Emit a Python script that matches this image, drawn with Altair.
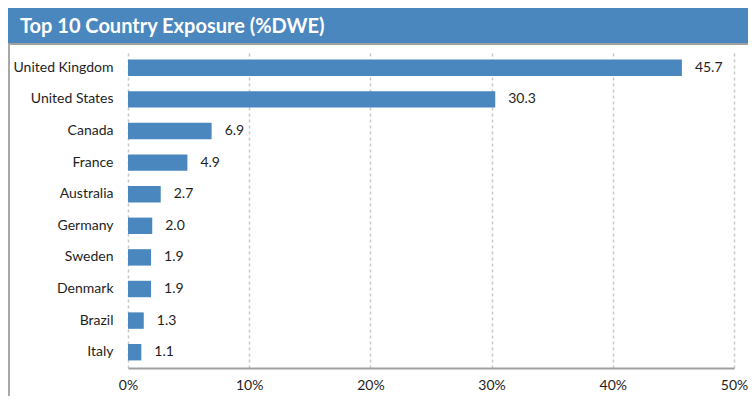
import altair as alt
import pandas as pd

# ---- data ----
countries = ["United Kingdom", "United States", "Canada", "France", "Australia",
             "Germany", "Sweden", "Denmark", "Brazil", "Italy"]
values = [45.7, 30.3, 6.9, 4.9, 2.7, 2.0, 1.9, 1.9, 1.3, 1.1]
x_ticks = [0, 10, 20, 30, 40, 50]
title_text = ["Top 10 Country Exposure (%DWE)"]

df = pd.DataFrame({"country": countries, "value": values})

FONT = "Lato"
BLUE = "#4a87be"
TXT = "#1e1e1e"

W, H = 606, 316
PAD_L, PAD_T, PAD_R, PAD_B = 120, 44, 14, 28

x_enc = alt.X(
    "value:Q",
    scale=alt.Scale(domain=[0, 50], nice=False, zero=True),
    axis=alt.Axis(
        values=x_ticks, labelExpr="datum.value + '%'", title=None,
        grid=True, gridDash=[3, 3], gridColor="#c8c8c8", gridWidth=1.5,
        domainColor="#a0a0a0", domainWidth=2, ticks=False,
        labelFlush=False,
        labelPadding=10, labelFontSize=14, labelColor=TXT, labelFont=FONT,
    ),
)
y_enc = alt.Y(
    "country:N", sort=countries,
    scale=alt.Scale(paddingInner=0.48, paddingOuter=0.24),
    axis=alt.Axis(
        title=None, ticks=False, domain=False, grid=False,
        labelPadding=15, labelFontSize=14, labelColor=TXT, labelFont=FONT,
    ),
)

bars = alt.Chart(df).mark_bar(color=BLUE).encode(x=x_enc, y=y_enc)
labels = alt.Chart(df).mark_text(
    align="left", baseline="middle", dx=13, fontSize=14, font=FONT, color=TXT
).encode(x="value:Q", y=alt.Y("country:N", sort=countries),
         text=alt.Text("value:Q", format=".1f"))

one = pd.DataFrame({"t": title_text})
header = alt.Chart(one).mark_rect(color=BLUE, clip=False).encode(
    x=alt.value(-PAD_L), x2=alt.value(W + PAD_R), y=alt.value(-45), y2=alt.value(-8))
header_line = alt.Chart(one).mark_rule(color="#a0a0a0", strokeWidth=2, clip=False).encode(
    x=alt.value(-PAD_L), x2=alt.value(W + PAD_R), y=alt.value(-8))
left_border = alt.Chart(one).mark_rule(color="#a8a8a8", strokeWidth=2, clip=False).encode(
    x=alt.value(-PAD_L + 1), y=alt.value(-8), y2=alt.value(H + PAD_B))
title = alt.Chart(one).mark_text(
    align="left", baseline="middle", fontSize=20, fontWeight="bold",
    font=FONT, color="white", clip=False
).encode(x=alt.value(20 - 128), y=alt.value(-25), text="t:N")

chart = alt.layer(bars, labels, header, header_line, left_border, title).properties(
    width=W, height=H,
    padding={"left": PAD_L, "top": PAD_T, "right": PAD_R, "bottom": PAD_B},
    autosize=alt.AutoSizeParams(type="none"),
).configure_view(stroke=None)

chart.save("out.html", embed_options={"renderer": "svg", "actions": False})
